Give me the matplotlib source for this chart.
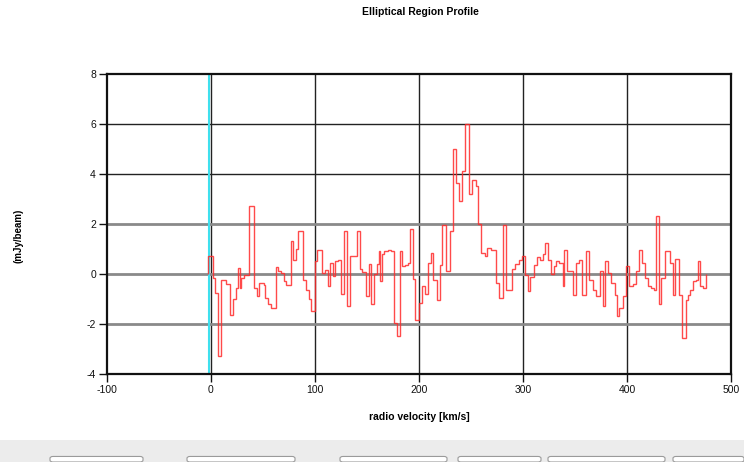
import numpy as np
import matplotlib
matplotlib.use('Agg')
import matplotlib.pyplot as plt
from matplotlib.patches import Rectangle, FancyBboxPatch

plt.rcParams['font.family'] = ['Liberation Sans', 'DejaVu Sans']
plt.rcParams['axes.unicode_minus'] = False

# spectrum: channel edges in km/s and flux per channel in mJy/beam
vel_edges = [-2.4, 1.7, 3.4, 6.5, 9.8, 14.4, 18.3, 21.2, 23.8, 25.8,
             27.9, 29.3, 32.2, 37.0, 40.9, 43.8, 46.6, 50.5, 52.1, 55.3,
             57.5, 62.3, 64.9, 67.1, 70.4, 72.6, 76.7, 78.8, 82.2, 84.1,
             88.7, 91.2, 93.8, 96.6, 100.2, 102.4, 106.9, 110.1, 112.3, 114.9,
             117.5, 119.7, 121.9, 125.2, 127.7, 131.0, 134.1, 140.4, 143.1, 145.4,
             149.5, 151.7, 154.0, 156.5, 159.8, 161.3, 162.7, 164.9, 166.8, 170.0,
             173.3, 175.5, 178.7, 181.9, 184.1, 186.7, 189.9, 191.8, 193.8, 195.7,
             200.2, 202.7, 206.0, 209.1, 211.7, 213.9, 217.1, 220.0, 222.6, 225.8,
             229.6, 232.9, 235.4, 238.7, 241.8, 244.0, 248.3, 251.4, 254.6, 256.9,
             260.1, 263.3, 265.6, 269.7, 273.8, 277.4, 280.6, 283.8, 289.2, 292.5,
             295.7, 298.8, 302.1, 304.6, 307.2, 310.4, 313.7, 315.9, 319.0, 321.3,
             323.8, 327.1, 330.3, 332.2, 335.1, 338.3, 339.9, 342.1, 347.9, 351.2,
             353.7, 356.9, 360.8, 363.9, 367.1, 370.4, 373.6, 376.7, 379.3, 381.5,
             384.8, 388.0, 390.2, 392.8, 396.0, 399.2, 402.4, 405.6, 408.2, 411.3,
             414.6, 417.8, 420.0, 423.3, 425.8, 428.1, 430.6, 432.9, 437.0, 440.9,
             444.0, 446.6, 449.8, 453.1, 456.3, 458.5, 460.8, 463.3, 465.9, 468.1,
             470.4, 472.9, 476.2]

flux = [0.7, -0.15, -0.77, -3.3, -0.25, -0.4, -1.65, -1.0, -0.55, 0.25,
        -0.55, -0.15, -0.05, 2.7, -0.55, -0.9, -0.35, -0.45, -0.97, -1.2,
        -1.37, 0.28, 0.1, 0.05, -0.3, -0.45, 1.33, 0.56, 1.0, 1.73,
        -0.24, -0.64, -1.0, -1.5, 0.5, 0.96, 0.03, 0.16, -0.5, 0.45,
        -0.1, 0.5, 0.56, -0.8, 1.7, -1.3, 0.7, 1.73, 0.2, 0.08,
        -0.9, 0.4, -1.2, 0.0, 0.4, 0.9, -0.3, 0.8, 0.9, 0.96,
        0.9, -1.97, -2.47, 0.9, 0.3, 0.35, 0.43, 1.8, -0.2, -1.84,
        -1.17, -0.5, -0.8, 0.43, 0.84, -0.24, -1.04, 0.35, 1.95, 0.1,
        1.7, 5.0, 3.65, 2.9, 4.1, 6.0, 3.2, 3.75, 3.5, 2.0,
        0.85, 0.7, 1.05, 0.95, -0.35, -0.97, 1.96, -0.64, 0.2, 0.4,
        0.56, 0.72, -0.04, -0.67, -0.12, 0.35, 0.67, 0.56, 0.8, 1.25,
        0.56, 0.0, 0.3, 0.5, 0.43, -0.5, 0.96, 0.1, -0.85, 0.43,
        0.56, -0.85, 0.9, -0.24, -0.64, -0.9, 0.1, -1.3, 0.5, 0.04,
        -0.37, -0.85, -1.7, -1.37, -0.9, 0.3, -0.5, -0.4, 0.1, 0.96,
        0.43, -0.17, -0.5, -0.57, -0.64, 2.3, -1.2, -0.17, 0.9, 0.43,
        -0.85, 0.6, -0.85, -2.57, -1.04, -0.85, -0.64, -0.3, -0.24, 0.5,
        -0.5, -0.57]

x_ticks = [-100, 0, 100, 200, 300, 400, 500]
y_ticks = [-4, -2, 0, 2, 4, 6, 8]
marker_vel = -2.0

fig = plt.figure(figsize=(7.44, 4.62), dpi=100)
fig.patch.set_facecolor('white')
ax = fig.add_axes([0.1438, 0.1905, 0.8387, 0.6494])

# grid: dark verticals, dark lines at 4 and 6, grey bands around zero
for v in [0, 100, 200, 300, 400]:
    ax.axvline(v, color='#222222', lw=1.0, zorder=1)
for h in [4, 6]:
    ax.axhline(h, color='#222222', lw=1.0, zorder=1)
for h in [-2, 0, 2]:
    ax.axhline(h, color='#8a8a8a', lw=2.0, zorder=1)

ax.axvline(marker_vel, color='#3fe0ee', lw=1.5, zorder=2)

ax.stairs(flux, vel_edges, color='#ff2a2a', lw=1.0, alpha=0.85, zorder=3)

ax.set_xlim(-100, 500)
ax.set_ylim(-4, 8)
ax.set_xticks(x_ticks)
ax.set_yticks(y_ticks)
ax.tick_params(labelsize=7.5, length=6, width=1, colors='#111111', pad=2)
for s in ax.spines.values():
    s.set_linewidth(1.6)
    s.set_color('#111111')

ax.set_xlabel('radio velocity [km/s]', fontsize=7.5, fontweight='bold', labelpad=12)
fig.text(0.025, 0.49, '(mJy/beam)', rotation=90, fontsize=7, fontweight='bold',
         ha='center', va='center')
fig.text(0.565, 0.975, 'Elliptical Region Profile', fontsize=7.5, fontweight='bold',
         ha='center', va='center')

# control strip along the bottom of the window
fig.patches.append(Rectangle((0, 0), 1, 0.048, transform=fig.transFigure,
                             facecolor='#ececec', edgecolor='none'))
for x0, x1 in [(50, 143), (187, 295), (340, 447), (458, 541), (548, 665), (673, 744)]:
    fig.patches.append(FancyBboxPatch((x0 / 744, 0.0), (x1 - x0) / 744, 0.012,
                                      boxstyle='round,pad=0.0,rounding_size=0.004',
                                      transform=fig.transFigure,
                                      facecolor='white', edgecolor='#9a9a9a', lw=0.8))

fig.savefig('out.png', dpi=100)
